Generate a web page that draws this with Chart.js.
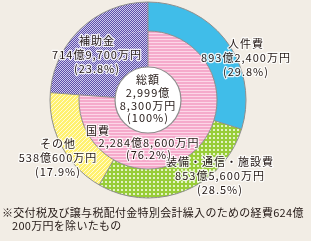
<!DOCTYPE html>
<html>
<head>
<meta charset="utf-8">
<script src="https://cdn.jsdelivr.net/npm/chart.js"></script>
<style>
  html, body { margin: 0; padding: 0; background: #f2ede5; }
  #wrap { width: 311px; height: 241px; position: relative; }
</style>
</head>
<body>
<div id="wrap"><canvas id="myChart" width="311" height="241"></canvas></div>
<script>
// outer ring: breakdown of spending
const categories = ['人件費', '装備・通信・施設費', 'その他', '補助金'];
const outerValues = [29.8, 28.5, 17.9, 23.8];
const amountLabels = ['893億2,400万円', '853億5,600万円', '538億600万円', '714億9,700万円'];
// inner ring: 国費 vs 補助金
const innerCategories = ['国費', '補助金'];
const innerValues = [76.2, 23.8];
const innerAmounts = ['2,284億8,600万円', ''];
const totalLabel = ['総額', '2,999億', '8,300万円', '(100%)'];
const noteLines = ['※交付税及び譲与税配付金特別会計繰入のための経費624億', '200万円を除いたもの'];

// label placement relative to chart centre (px), kept apart from the data
const outerLabelPos = [[98, -42], [72, 76], [-90, 58], [-51, -45]];
const innerLabelPos = [[1, 43]];

const font = '"Noto Sans CJK JP", "Noto Sans", sans-serif';
const textColor = '#231815';

function makePattern(w, h, base, fg, pixels) {
  const c = document.createElement('canvas');
  c.width = w; c.height = h;
  const g = c.getContext('2d');
  g.fillStyle = base;
  g.fillRect(0, 0, w, h);
  g.fillStyle = fg;
  pixels.forEach(p => g.fillRect(p[0], p[1], p[2] || 1, p[3] || 1));
  return g.createPattern(c, 'repeat');
}

const ctx = document.getElementById('myChart').getContext('2d');
const blue = '#40bde9';
const green = makePattern(4, 4, '#98cd38', '#e3f3c4', [[1, 1, 2, 2]]);
const yellow = makePattern(4, 4, '#fff170', '#fffbd6', [[3, 0], [2, 1], [1, 2], [0, 3]]);
const purple = makePattern(4, 4, '#5c4fa8', '#cfc9ee', [[0, 0], [1, 1], [2, 2], [3, 3], [2, 0], [0, 2], [3, 1], [1, 3]]);
const pink = makePattern(4, 3, '#f5aacb', '#fcd6e7', [[0, 0, 4, 1]]);

const borderPlugin = {
  id: 'rings',
  afterDatasetsDraw(chart) {
    const c = chart.ctx;
    const outer = chart.getDatasetMeta(0).data;
    const inner = chart.getDatasetMeta(1).data;
    const x = outer[0].x, y = outer[0].y;
    c.save();
    c.strokeStyle = '#8e8e8e';
    c.lineWidth = 1;
    const radial = (a) => {
      c.beginPath();
      c.moveTo(x + Math.cos(a.startAngle) * a.innerRadius, y + Math.sin(a.startAngle) * a.innerRadius);
      c.lineTo(x + Math.cos(a.startAngle) * a.outerRadius, y + Math.sin(a.startAngle) * a.outerRadius);
      c.stroke();
    };
    outer.forEach(radial);
    inner.forEach(radial);
    c.beginPath();
    c.arc(x, y, outer[0].outerRadius, 0, Math.PI * 2);
    c.stroke();
    c.beginPath();
    c.arc(x, y, inner[0].outerRadius, inner[0].startAngle, inner[0].endAngle);
    c.stroke();
    // centre circle
    c.beginPath();
    c.arc(x, y, inner[0].innerRadius, 0, Math.PI * 2);
    c.fillStyle = '#ffffff';
    c.fill();
    c.lineWidth = 1.2;
    c.stroke();
    c.restore();
  },
  afterDraw(chart) {
    const c = chart.ctx;
    const outer = chart.getDatasetMeta(0).data;
    const x = outer[0].x, y = outer[0].y;
    c.save();
    c.font = '11px ' + font;
    c.letterSpacing = '1px';
    c.textAlign = 'center';
    c.textBaseline = 'middle';
    const block = (lines, cx, cy, lh, halo) => {
      lines.forEach((t, i) => {
        const ty = cy + (i - (lines.length - 1) / 2) * lh;
        if (halo) {
          c.strokeStyle = 'rgba(255,255,255,0.85)';
          c.lineWidth = 2.5;
          c.lineJoin = 'round';
          c.strokeText(t, cx, ty);
        }
        c.fillStyle = textColor;
        c.fillText(t, cx, ty);
      });
    };
    categories.forEach((name, i) => {
      const p = outerLabelPos[i];
      block([name, amountLabels[i], '(' + outerValues[i].toFixed(1) + '%)'], x + p[0], y + p[1], 14, true);
    });
    // 国費 label: title sits to the left
    const kp = innerLabelPos[0];
    block([innerAmounts[0], '(' + innerValues[0].toFixed(1) + '%)'], x + kp[0], y + kp[1] + 6, 12, true);
    block([innerCategories[0]], x + kp[0] - 51, y + kp[1] - 12, 12, true);
    block(totalLabel, x, y - 1, 12.7, false);
    // footnote
    c.letterSpacing = '0.3px';
    c.textAlign = 'left';
    c.fillStyle = textColor;
    c.fillText(noteLines[0], 2, 213);
    c.fillText(noteLines[1], 12, 226);
    c.restore();
  }
};

new Chart(ctx, {
  type: 'doughnut',
  data: {
    labels: categories,
    datasets: [{
      data: outerValues,
      backgroundColor: [blue, green, yellow, purple],
      borderWidth: 0,
      weight: 29
    }, {
      data: innerValues,
      backgroundColor: [pink, purple],
      borderWidth: 0,
      weight: 36
    }]
  },
  options: {
    responsive: false,
    animation: false,
    cutout: 33,
    layout: { padding: { left: 50, right: 65, top: 2, bottom: 43 } },
    events: [],
    plugins: {
      legend: { display: false },
      tooltip: { enabled: false }
    }
  },
  plugins: [borderPlugin]
});
</script>
</body>
</html>
